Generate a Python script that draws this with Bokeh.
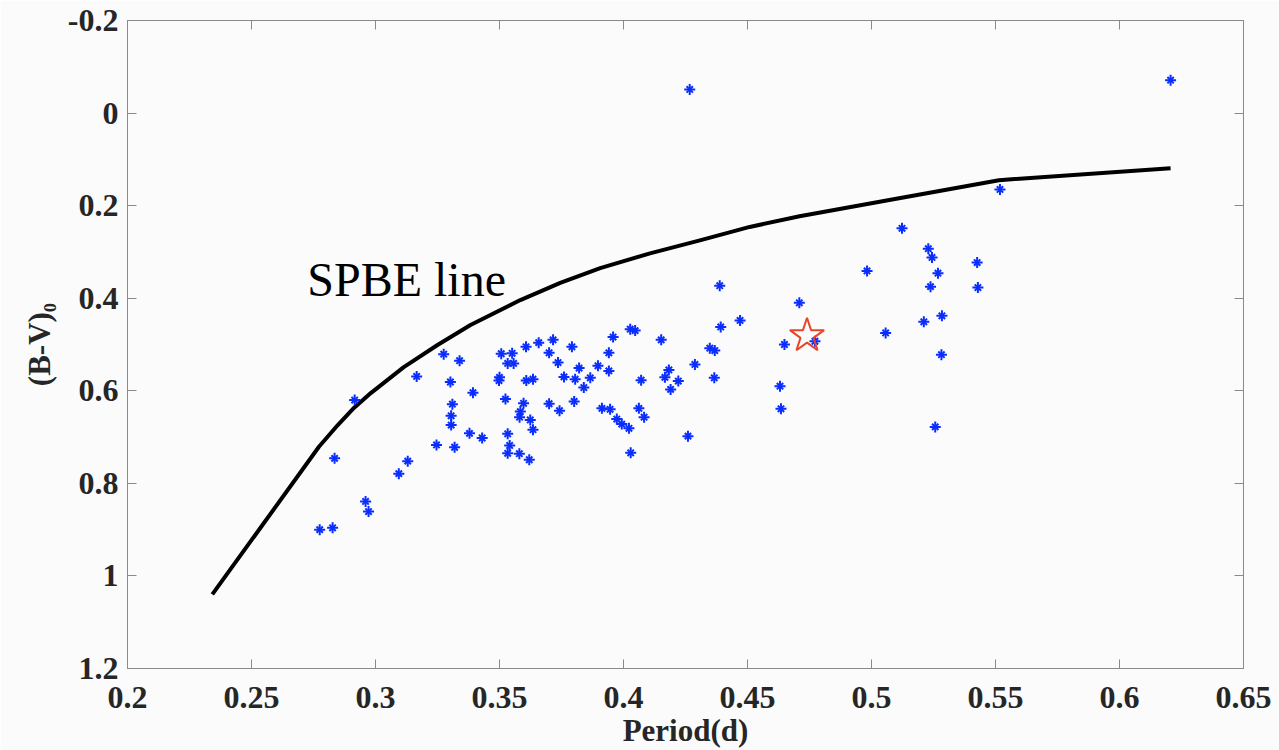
from bokeh.plotting import figure
from bokeh.models import Range1d, LinearAxis, FixedTicker
from bokeh.embed import file_html
from bokeh.resources import INLINE
from bokeh.core.properties import value

# ---- data ----
period = [0.2775, 0.2827, 0.2960, 0.2972, 0.2835, 0.2916, 0.3094, 0.3130, 0.3166, 0.3275,
          0.3339, 0.3302, 0.3310, 0.3305, 0.3305, 0.3246, 0.3319, 0.3393, 0.3379, 0.3430,
          0.3507, 0.3551, 0.3533, 0.3557, 0.3500, 0.3498, 0.3607, 0.3658, 0.3716, 0.3700,
          0.3792, 0.3736, 0.3608, 0.3635, 0.3524, 0.3597, 0.3584, 0.3581, 0.3624, 0.3635,
          0.3533, 0.3541, 0.3533, 0.3580, 0.3620, 0.3700, 0.3742, 0.3760, 0.3805, 0.3821,
          0.3801, 0.3840, 0.3866, 0.3897, 0.3941, 0.3958, 0.3941, 0.4027, 0.4047, 0.4152,
          0.3913, 0.3946, 0.3973, 0.3993, 0.4022, 0.4029, 0.4071, 0.4062, 0.4083, 0.4183,
          0.4167, 0.4221, 0.4190, 0.4288, 0.4260, 0.4388, 0.4470, 0.4392, 0.4348, 0.4368,
          0.4366, 0.4649, 0.4631, 0.4635, 0.4709, 0.4772, 0.4982, 0.5057, 0.5123, 0.5229,
          0.5244, 0.5268, 0.5238, 0.5211, 0.5284, 0.5282, 0.5257, 0.5426, 0.5429, 0.5518,
          0.4267, 0.6206]
bv0 = [0.900, 0.896, 0.839, 0.861, 0.746, 0.620, 0.779, 0.752, 0.569, 0.521,
       0.535, 0.581, 0.629, 0.654, 0.674, 0.717, 0.722, 0.604, 0.692, 0.702,
       0.520, 0.519, 0.541, 0.541, 0.571, 0.578, 0.505, 0.496, 0.490, 0.518,
       0.505, 0.539, 0.578, 0.575, 0.618, 0.627, 0.645, 0.657, 0.663, 0.684,
       0.693, 0.718, 0.735, 0.736, 0.749, 0.628, 0.643, 0.570, 0.575, 0.551,
       0.623, 0.593, 0.572, 0.546, 0.518, 0.484, 0.557, 0.467, 0.470, 0.490,
       0.638, 0.640, 0.661, 0.672, 0.681, 0.734, 0.577, 0.638, 0.657, 0.555,
       0.571, 0.579, 0.597, 0.543, 0.698, 0.373, 0.448, 0.462, 0.508, 0.513,
       0.572, 0.500, 0.590, 0.639, 0.410, 0.493, 0.341, 0.475, 0.249, 0.293,
       0.312, 0.346, 0.375, 0.451, 0.438, 0.522, 0.678, 0.323, 0.377, 0.165,
       -0.051, -0.071]

spbe_period = [0.2342, 0.2772, 0.2848, 0.2913, 0.2981, 0.3114, 0.3250, 0.3383, 0.3584,
               0.3745, 0.3906, 0.4107, 0.4308, 0.4509, 0.4710, 0.5072, 0.5514, 0.6206]
spbe_bv0 = [1.040, 0.721, 0.674, 0.637, 0.605, 0.549, 0.501, 0.458, 0.404,
            0.367, 0.335, 0.303, 0.275, 0.246, 0.223, 0.188, 0.145, 0.119]

target_period = [0.4740]
target_bv0 = [0.481]

x_ticks = [0.2, 0.25, 0.3, 0.35, 0.4, 0.45, 0.5, 0.55, 0.6, 0.65]
x_tick_labels = ["0.2", "0.25", "0.3", "0.35", "0.4", "0.45", "0.5", "0.55", "0.6", "0.65"]
y_ticks = [-0.2, 0.0, 0.2, 0.4, 0.6, 0.8, 1.0, 1.2]
y_tick_labels = ["-0.2", "0", "0.2", "0.4", "0.6", "0.8", "1", "1.2"]

FONT = "Liberation Serif"
TXT = "#262626"
AX = "#8a8a8a"
BG = "#fbfbfb"
BLUE = "#0a2dff"

p = figure(width=1279, height=750, x_range=Range1d(0.2, 0.65), y_range=Range1d(1.2, -0.2),
           output_backend="svg", toolbar_location=None,
           min_border_left=127, min_border_right=36, min_border_top=20, min_border_bottom=81)
p.background_fill_color = BG
p.border_fill_color = BG
p.outline_line_color = AX
p.grid.visible = False

def style_axis(ax, ticks, labels, show_labels=True):
    ax.ticker = FixedTicker(ticks=ticks)
    ax.major_label_overrides = {t: l for t, l in zip(ticks, labels)}
    ax.minor_tick_line_color = None
    ax.major_tick_in = 9
    ax.major_tick_out = 0
    ax.axis_line_color = AX
    ax.major_tick_line_color = AX
    ax.major_label_text_font = FONT
    ax.major_label_text_font_style = "bold"
    if show_labels:
        ax.major_label_text_font_size = "32px"
        ax.major_label_text_color = TXT
    else:
        ax.major_label_text_font_size = "1px"
        ax.major_label_text_color = None
    ax.axis_label_text_font = FONT
    ax.axis_label_text_font_style = "bold"
    ax.axis_label_text_font_size = "31px"
    ax.axis_label_text_color = TXT

xa = p.xaxis[0]
ya = p.yaxis[0]
style_axis(xa, x_ticks, x_tick_labels)
style_axis(ya, y_ticks, y_tick_labels)
xa.axis_label = "Period(d)"
xa.major_label_standoff = 18
xa.axis_label_standoff = 2
ya.axis_label = "(B-V)\u2080"
ya.major_label_standoff = 9
ya.axis_label_standoff = 8

top = LinearAxis()
right = LinearAxis()
style_axis(top, x_ticks, x_tick_labels, show_labels=False)
style_axis(right, y_ticks, y_tick_labels, show_labels=False)
top.major_label_standoff = 0
right.major_label_standoff = 0
p.add_layout(top, "above")
p.add_layout(right, "right")

p.line(spbe_period, spbe_bv0, line_color="black", line_width=4, line_join="round")

p.scatter(period, bv0, marker="cross", size=11, line_color=BLUE, line_width=2)
p.scatter(period, bv0, marker="x", size=9, line_color=BLUE, line_width=2)

p.scatter(target_period, target_bv0, marker="star", size=36, fill_color=None,
          line_color="#e8442a", line_width=2)

p.text(x=[0.2725], y=[0.360], text=["SPBE line"], text_font=value(FONT),
       text_font_size="48px", text_color="black", text_baseline="alphabetic",
       text_align="left")

open("out.html", "w").write(file_html(p, INLINE))
